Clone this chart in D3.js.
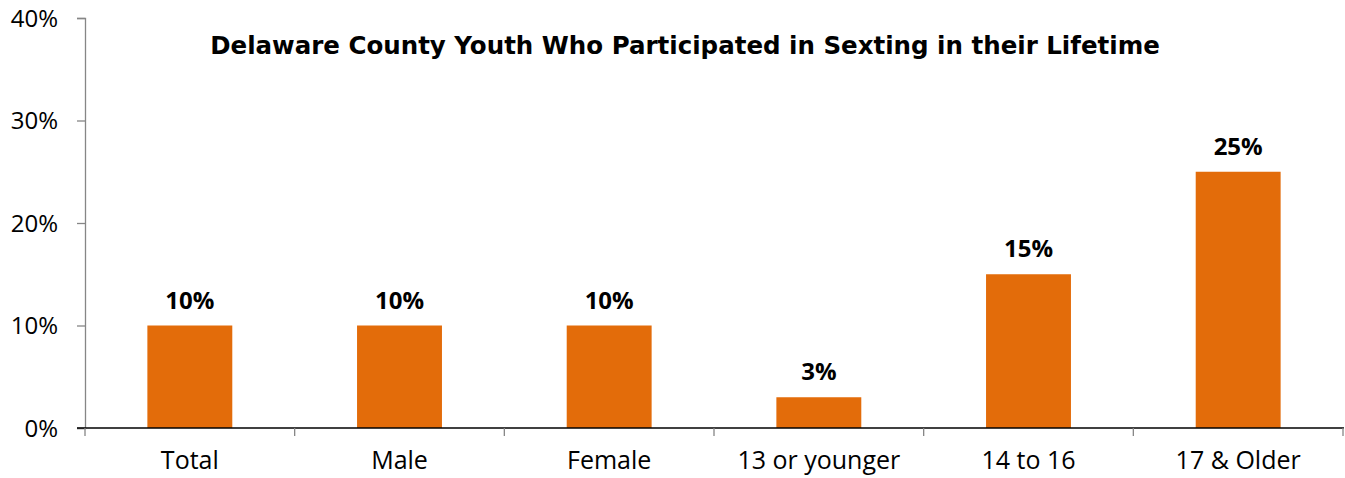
<!DOCTYPE html>
<html><head><meta charset="utf-8">
<script src="https://cdn.jsdelivr.net/npm/d3@7"></script>
<style>body{margin:0;background:#fff}svg{display:block}</style>
</head><body><svg id="c" width="1345" height="478"></svg>
<script>
const categories = ["Total","Male","Female","13 or younger","14 to 16","17 & Older"];
const values = [10,10,10,3,15,25];
const yTicks = [0,10,20,30,40];
const title = "Delaware County Youth Who Participated in Sexting in their Lifetime";

(function(){
const svg = d3.select("#c");
const mL = 85, mR = 1343, mT = 18, mB = 428;
const x = d3.scaleBand().domain(categories).range([mL,mR]).paddingInner(0.595).paddingOuter(0.2975);
const y = d3.scaleLinear().domain([0,40]).range([mB,mT]);
const font = "'Open Sans','Noto Sans',sans-serif";

// bars
svg.selectAll("rect.bar").data(values).join("rect")
  .attr("x",(d,i)=>x(categories[i])).attr("width",x.bandwidth())
  .attr("y",d=>y(d)).attr("height",d=>y(0)-y(d)).attr("fill","#E36C0A");

// y axis
const ya = svg.append("g").attr("transform",`translate(${mL},0)`)
  .call(d3.axisLeft(y).tickValues(yTicks).tickFormat(d=>d+"%").tickSize(8).tickPadding(19));
ya.select(".domain").attr("stroke","#868686").attr("stroke-width",1.3);
ya.selectAll(".tick line").attr("stroke","#868686").attr("stroke-width",1.3);
ya.selectAll("text").attr("font-family",font).attr("font-size",24).attr("fill","#000").attr("dy","0.35em");

// x axis
const xa = svg.append("g").attr("transform",`translate(0,${mB})`)
  .call(d3.axisBottom(x).tickSize(0).tickPadding(23));
xa.select(".domain").remove();
xa.selectAll("text").attr("font-family",font).attr("font-size",25).attr("fill","#000");
svg.append("line").attr("x1",mL-8).attr("x2",mR+1).attr("y1",mB).attr("y2",mB)
  .attr("stroke","#000").attr("stroke-width",1.3);
const bounds = categories.map(c=>x(c)-x.step()*x.paddingInner()/2).concat([mR]);
svg.selectAll("line.xt").data(bounds).join("line")
  .attr("x1",d=>d).attr("x2",d=>d).attr("y1",mB).attr("y2",mB+8)
  .attr("stroke","#868686").attr("stroke-width",1.3);

// value labels
svg.selectAll("text.val").data(values).join("text")
  .attr("x",(d,i)=>x(categories[i])+x.bandwidth()/2).attr("y",d=>y(d)-17)
  .attr("text-anchor","middle").attr("font-family",font).attr("font-weight","bold")
  .attr("font-size",24).text(d=>d+"%");

// title
const t = svg.append("text").attr("x",685).attr("y",54).attr("text-anchor","middle")
  .attr("font-family","'DejaVu Sans',Verdana,sans-serif").attr("font-weight","bold")
  .attr("font-size",22).text(title);
const w = t.node().getComputedTextLength();
t.attr("font-size",22*950/w);
})();
</script></body></html>
